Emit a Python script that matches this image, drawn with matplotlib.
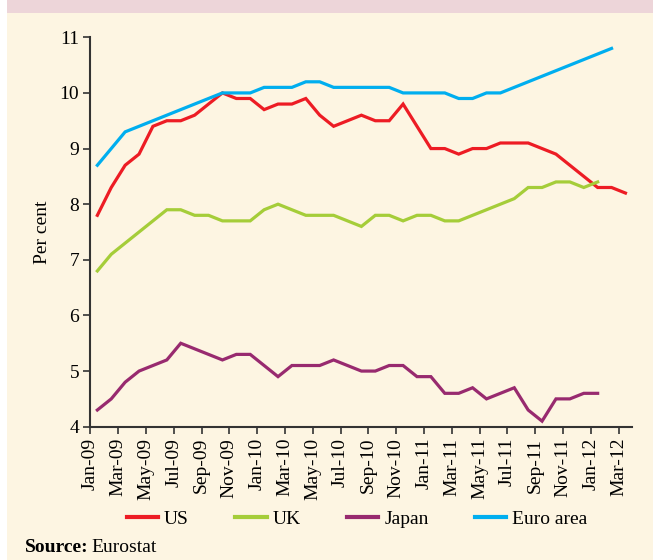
import numpy as np
import matplotlib
matplotlib.use("Agg")
import matplotlib.pyplot as plt
from matplotlib.patches import Rectangle

# monthly unemployment rate, Jan-09 .. Mar-12
months = ["Jan-09", "Feb-09", "Mar-09", "Apr-09", "May-09", "Jun-09", "Jul-09", "Aug-09",
          "Sep-09", "Oct-09", "Nov-09", "Dec-09", "Jan-10", "Feb-10", "Mar-10", "Apr-10",
          "May-10", "Jun-10", "Jul-10", "Aug-10", "Sep-10", "Oct-10", "Nov-10", "Dec-10",
          "Jan-11", "Feb-11", "Mar-11", "Apr-11", "May-11", "Jun-11", "Jul-11", "Aug-11",
          "Sep-11", "Oct-11", "Nov-11", "Dec-11", "Jan-12", "Feb-12", "Mar-12"]

us = [7.8, 8.3, 8.7, 8.9, 9.4, 9.5, 9.5, 9.6, 9.8, 10.0, 9.9, 9.9, 9.7, 9.8, 9.8, 9.9,
      9.6, 9.4, 9.5, 9.6, 9.5, 9.5, 9.8, 9.4, 9.0, 9.0, 8.9, 9.0, 9.0, 9.1, 9.1, 9.1,
      9.0, 8.9, 8.7, 8.5, 8.3, 8.3, 8.2]
uk = [6.8, 7.1, 7.3, 7.5, 7.7, 7.9, 7.9, 7.8, 7.8, 7.7, 7.7, 7.7, 7.9, 8.0, 7.9, 7.8,
      7.8, 7.8, 7.7, 7.6, 7.8, 7.8, 7.7, 7.8, 7.8, 7.7, 7.7, 7.8, 7.9, 8.0, 8.1, 8.3,
      8.3, 8.4, 8.4, 8.3, 8.4]
japan = [4.3, 4.5, 4.8, 5.0, 5.1, 5.2, 5.5, 5.4, 5.3, 5.2, 5.3, 5.3, 5.1, 4.9, 5.1, 5.1,
         5.1, 5.2, 5.1, 5.0, 5.0, 5.1, 5.1, 4.9, 4.9, 4.6, 4.6, 4.7, 4.5, 4.6, 4.7, 4.3,
         4.1, 4.5, 4.5, 4.6, 4.6]
euro = [8.7, 9.0, 9.3, 9.4, 9.5, 9.6, 9.7, 9.8, 9.9, 10.0, 10.0, 10.0, 10.1, 10.1, 10.1, 10.2,
        10.2, 10.1, 10.1, 10.1, 10.1, 10.1, 10.0, 10.0, 10.0, 10.0, 9.9, 9.9, 10.0, 10.0, 10.1, 10.2,
        10.3, 10.4, 10.5, 10.6, 10.7, 10.8]

series = [("US", us, "#ED1C24"), ("UK", uk, "#A5CD39"),
          ("Japan", japan, "#982A6F"), ("Euro area", euro, "#00AEEF")]

plt.rcParams['font.family'] = ['Liberation Serif', 'DejaVu Serif']
cream = "#FDF5E2"

fig = plt.figure(figsize=(6.53, 5.6), dpi=100, facecolor="white")
fig.patches.append(Rectangle((7/653, 0), 1, 1, transform=fig.transFigure,
                             facecolor=cream, edgecolor="none", zorder=-10))
fig.patches.append(Rectangle((7/653, 1 - 13/560), 1, 13/560, transform=fig.transFigure,
                             facecolor="#EDD5D9", edgecolor="none", zorder=-9))

ax = fig.add_axes([90.4/653, 1 - 426.7/560, 542/653, 389.4/560])
ax.set_facecolor(cream)

for name, vals, col in series:
    x = np.arange(len(vals)) + 0.5
    ax.plot(x, vals, color=col, lw=2.3, label=name, solid_joinstyle="miter")

ax.set_xlim(0, 39)
ax.set_ylim(4, 11)
ax.set_yticks(range(4, 12))
ax.set_xticks(range(0, 39, 2))
ax.set_xticklabels(months[::2], rotation=90, fontsize=14)
ax.tick_params(axis="y", labelsize=14, length=5, width=1.2, color="#333333", pad=3)
ax.tick_params(axis="x", length=5, width=1.2, color="#333333", pad=3)
for s in ["top", "right"]:
    ax.spines[s].set_visible(False)
for s in ["left", "bottom"]:
    ax.spines[s].set_color("#333333")
    ax.spines[s].set_linewidth(1.5)

ax.set_ylabel("Per cent", fontsize=14, labelpad=6)

leg = fig.legend(loc="center", bbox_to_anchor=(0.547, 0.073), ncol=4, frameon=False,
                 fontsize=14, handlelength=1.6, handletextpad=0.3, columnspacing=2.4)
for h in leg.get_lines():
    h.set_linewidth(3)

fig.text(25/653, 1 - 547/560, "Source:", fontsize=14, fontweight="bold", va="center")
fig.text(91/653, 1 - 547/560, "Eurostat", fontsize=14, va="center")

fig.savefig("out.png", dpi=100, facecolor=fig.get_facecolor())
